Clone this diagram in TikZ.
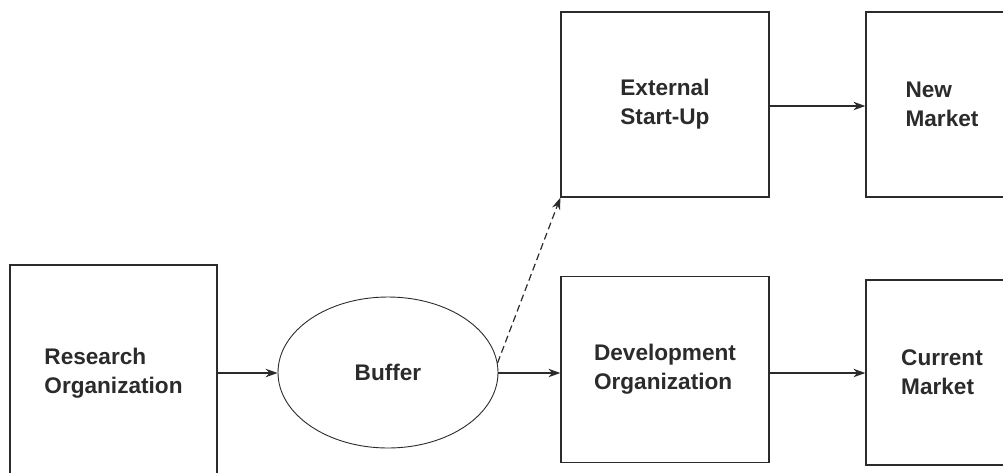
\documentclass[tikz,border=0pt]{standalone}
\usepackage{fontspec}
\setmainfont{Liberation Sans}
\usetikzlibrary{arrows.meta,shapes.geometric}
\definecolor{ink}{HTML}{2B2B2B}
\begin{document}
\begin{tikzpicture}[x=1pt,y=-1pt,
  every node/.style={font=\fontsize{22.6}{29}\selectfont\bfseries, text=ink},
  block/.style={draw=ink, line width=1.3pt, align=left, inner sep=0pt,
    minimum width=208pt, minimum height=186pt},
  market/.style={block, minimum width=152pt},
  pool/.style={draw=ink, line width=0.9pt, ellipse, inner sep=0pt,
    minimum width=220pt, minimum height=151pt},
  flow/.style={draw=ink, line width=1.2pt, -{Stealth[length=12pt,width=8.5pt]}},
  maybe/.style={flow, dash pattern=on 7pt off 4pt}]
\useasboundingbox (0,0) rectangle (1003,472);
\clip (0,0) rectangle (1003,472);
% blocks and the buffer pool
\node[block, minimum width=207pt, minimum height=216pt] (res) at (113.5,373) {Research\\Organization};
\node[pool] (buf) at (388,372.5) {Buffer};
\node[block] (dev) at (665,369.5) {Development\\Organization};
\node[block, minimum height=185pt] (ext) at (665,104.5) {External\\Start-Up};
\node[market, minimum height=185pt] (new) at (942,104.5) {New\\Market};
\node[market, minimum height=185pt] (cur) at (942,372.5) {Current\\Market};
% connectors
\draw[flow] (res.east |- 0,373) -- (buf.west |- 0,373);
\draw[flow] (buf.east |- 0,373) -- (dev.west |- 0,373);
\draw[flow] (dev.east |- 0,373) -- (cur.west |- 0,373);
\draw[flow] (ext.east |- 0,106) -- (new.west |- 0,106);
\draw[maybe] (buf.5) -- (ext.south west);
\end{tikzpicture}
\end{document}
